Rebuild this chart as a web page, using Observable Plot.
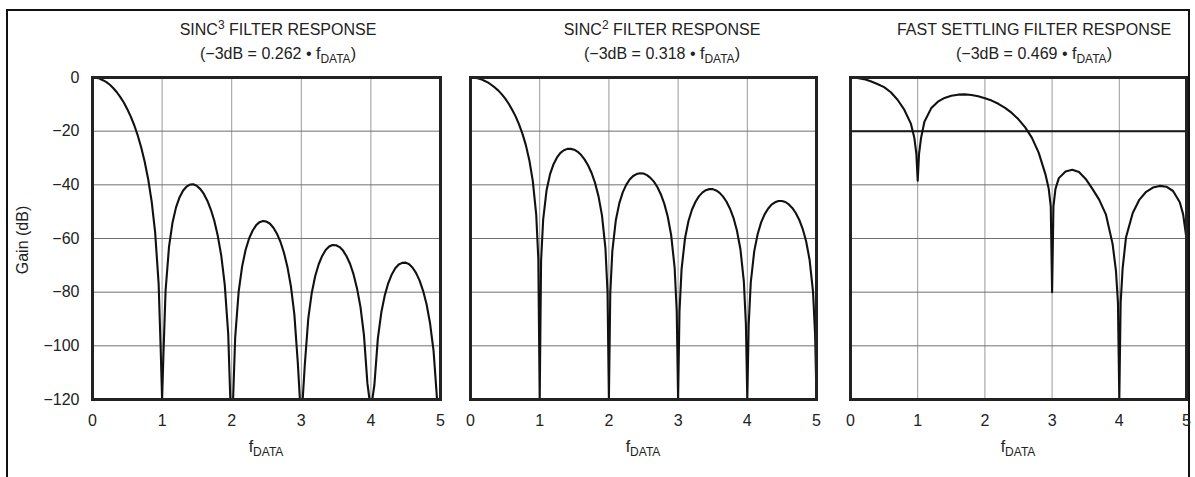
<!DOCTYPE html>
<html><head><meta charset="utf-8">
<script src="https://cdn.jsdelivr.net/npm/d3@7"></script>
<script src="https://cdn.jsdelivr.net/npm/@observablehq/plot@0.6"></script>
<style>
body{margin:0;background:#fff;}
#chart{position:relative;width:1195px;height:477px;overflow:hidden;font-family:"Liberation Sans",Arial,sans-serif;color:#222;background:#fff;}
#outer{position:absolute;left:6px;top:9px;width:1184px;height:520px;border:2px solid #111;box-sizing:border-box;}
.title{position:absolute;width:400px;text-align:center;font-size:16px;line-height:24px;white-space:nowrap;}
.title sup,.title sub,.xl sub{font-size:12px;line-height:0;}
.title sup{vertical-align:6px;}
.title sub,.xl sub{vertical-align:-4px;}
.xl{position:absolute;width:120px;text-align:center;font-size:16px;line-height:20px;}
#ylab{position:absolute;left:23px;top:240px;font-size:16px;white-space:nowrap;transform:translate(-50%,-50%) rotate(-90deg);}
svg.panel{position:absolute;top:0;}
</style>
</head><body>
<div id="chart"><div id="outer"></div></div>
<script>
// frequency (multiples of f_DATA) sampled for the sinc responses
const sincFreq = [
  0,0.05,0.1,0.15,0.2,0.25,0.3,0.35,0.4,0.45,0.5,0.55,0.6,0.65,0.7,0.75,0.8,0.85,0.9,0.95,0.98,
  1,1.02,1.05,1.1,1.15,1.2,1.25,1.3,1.35,1.4,1.45,1.5,1.55,1.6,1.65,1.7,1.75,1.8,1.85,1.9,1.95,1.98,
  2,2.02,2.05,2.1,2.15,2.2,2.25,2.3,2.35,2.4,2.45,2.5,2.55,2.6,2.65,2.7,2.75,2.8,2.85,2.9,2.95,2.98,
  3,3.02,3.05,3.1,3.15,3.2,3.25,3.3,3.35,3.4,3.45,3.5,3.55,3.6,3.65,3.7,3.75,3.8,3.85,3.9,3.95,3.98,
  4,4.02,4.05,4.1,4.15,4.2,4.25,4.3,4.35,4.4,4.45,4.5,4.55,4.6,4.65,4.7,4.75,4.8,4.85,4.9,4.95,4.98,
  5
];
// SINC3 gain (dB)
const sinc3Gain = [
  0,-0.1,-0.4,-1.0,-1.7,-2.7,-4.0,-5.5,-7.3,-9.3,-11.8,-14.6,-17.8,-21.6,-26.1,-31.4,-37.9,-46.2,-57.7,-76.8,-101.4,
  -120,-102.5,-79.4,-62.9,-54.0,-48.4,-44.7,-42.2,-40.7,-39.9,-39.8,-40.4,-41.6,-43.4,-45.9,-49.2,-53.4,-59.0,-66.4,-77.2,-95.6,-119.8,
  -120,-120,-96.9,-79.8,-70.4,-64.2,-60.0,-57.1,-55.1,-53.9,-53.5,-53.7,-54.5,-56.0,-58.2,-61.2,-65.2,-70.5,-77.7,-88.2,-106.4,-120,
  -120,-120,-107.2,-89.9,-80.3,-74.0,-69.6,-66.5,-64.3,-63.0,-62.4,-62.5,-63.2,-64.5,-66.6,-69.4,-73.3,-78.5,-85.5,-95.9,-114.0,-120,
  -120,-120,-114.6,-97.2,-87.5,-81.1,-76.6,-73.4,-71.1,-69.7,-69.1,-69.0,-69.6,-70.9,-72.9,-75.7,-79.5,-84.5,-91.6,-101.8,-119.8,-120,
  -120
];
// SINC2 gain (dB)
const sinc2Gain = [
  0,-0.1,-0.3,-0.6,-1.2,-1.8,-2.7,-3.7,-4.8,-6.2,-7.8,-9.7,-11.9,-14.4,-17.4,-20.9,-25.2,-30.8,-38.5,-51.2,-67.6,
  -120,-68.3,-53.0,-41.9,-36.0,-32.3,-29.8,-28.1,-27.1,-26.6,-26.6,-26.9,-27.7,-28.9,-30.6,-32.8,-35.6,-39.3,-44.3,-51.4,-63.7,-79.8,
  -120,-80.2,-64.6,-53.2,-46.9,-42.8,-40.0,-38.0,-36.7,-36.0,-35.7,-35.8,-36.4,-37.4,-38.8,-40.8,-43.5,-47.0,-51.8,-58.8,-70.9,-86.9,
  -120,-87.2,-71.5,-59.9,-53.5,-49.3,-46.4,-44.3,-42.9,-42.0,-41.6,-41.6,-42.1,-43.0,-44.4,-46.3,-48.9,-52.3,-57.0,-63.9,-76.0,-92.0,
  -120,-92.1,-76.4,-64.8,-58.3,-54.0,-51.0,-48.9,-47.4,-46.5,-46.0,-46.0,-46.4,-47.3,-48.6,-50.5,-53.0,-56.4,-61.0,-67.9,-79.9,-95.9,
  -120
];
// Fast settling filter
const fastFreq = [0,0.1,0.2,0.3,0.4,0.5,0.6,0.7,0.8,0.9,0.95,0.98,1.0,1.02,1.05,1.1,1.2,1.3,1.4,1.5,1.6,1.7,1.8,1.9,2.0,
  2.1,2.2,2.3,2.4,2.5,2.6,2.7,2.8,2.9,2.95,2.98,3.0,3.02,3.05,3.1,3.2,3.3,3.4,3.5,3.6,3.7,3.8,3.9,3.95,3.98,4.0,4.02,4.05,
  4.1,4.2,4.3,4.4,4.5,4.6,4.7,4.8,4.9,4.95,5.0];
const fastGain = [0,-0.2,-0.6,-1.4,-2.4,-3.6,-5.5,-8.3,-12.0,-17.3,-22.5,-28.5,-38.5,-28.5,-22.5,-16.5,-11.5,-9.0,-7.6,-6.8,-6.4,-6.3,-6.5,-7.0,-7.7,
  -8.6,-9.8,-11.3,-13.2,-15.6,-18.6,-22.5,-28,-36,-41.5,-48,-80,-48,-41.5,-37.5,-35,-34.4,-35.2,-37.8,-41.5,-45.5,-51,-62,-72,-84,-120,-84,-71,
  -59.5,-50.5,-45.5,-42.6,-41,-40.4,-40.7,-42.3,-46.5,-51,-60];
const fastThreshold = [-20];

const xTicks = [0,1,2,3,4,5];
const yTicks = [0,-20,-40,-60,-80,-100,-120];
const titles = [
  ["SINC<sup>3</sup> FILTER RESPONSE","(\u22123dB = 0.262 \u2022 f<sub>DATA</sub>)"],
  ["SINC<sup>2</sup> FILTER RESPONSE","(\u22123dB = 0.318 \u2022 f<sub>DATA</sub>)"],
  ["FAST SETTLING FILTER RESPONSE","(\u22123dB = 0.469 \u2022 f<sub>DATA</sub>)"]
];
const yLabel = "Gain (dB)";

const chart = document.getElementById("chart");
const minus = d => d < 0 ? "\u2212" + Math.abs(d) : String(d);

const panels = [
  {freq: sincFreq, gain: sinc3Gain, left: 0, width: 450, ml: 92, mr: 10, showY: true, tc: 278, thr: null},
  {freq: sincFreq, gain: sinc2Gain, left: 455, width: 370, ml: 15, mr: 9, showY: false, tc: 662, thr: null},
  {freq: fastFreq, gain: fastGain, left: 835, width: 360, ml: 15, mr: 9, showY: false, tc: 1034, thr: fastThreshold}
];

panels.forEach((p, i) => {
  const data = p.freq.map((f, j) => ({f, g: p.gain[j]}));
  const marks = [
    Plot.gridX(xTicks.slice(1, -1), {stroke: "#9a9a9a", strokeOpacity: 1, strokeWidth: 1}),
    Plot.gridY(yTicks.slice(1, -1), {stroke: "#707070", strokeOpacity: 1, strokeWidth: 1})
  ];
  if (p.thr) marks.push(Plot.ruleY(p.thr, {stroke: "#1a1a1a", strokeWidth: 2}));
  marks.push(
    Plot.line(data, {x: "f", y: "g", stroke: "#111", strokeWidth: 2.1}),
    Plot.frame({stroke: "#222", strokeWidth: 3}),
    Plot.axisX(xTicks, {tickSize: 0, tickPadding: 15, label: null})
  );
  if (p.showY) marks.push(Plot.axisY(yTicks, {tickSize: 0, tickPadding: 13, label: null, tickFormat: minus}));
  const svg = Plot.plot({
    width: p.width, height: 477,
    marginLeft: p.ml, marginRight: p.mr, marginTop: 77, marginBottom: 78,
    x: {domain: [0, 5]},
    y: {domain: [-120, 0], axis: p.showY ? undefined : null},
    style: {background: "transparent", fontFamily: "'Liberation Sans', Arial, sans-serif", fontSize: "16px", color: "#222", overflow: "visible"},
    marks
  });
  svg.classList.add("panel");
  svg.style.position = "absolute";
  svg.style.left = p.left + "px";
  svg.style.top = "0px";
  svg.style.maxWidth = "none";
  chart.appendChild(svg);

  const t = document.createElement("div");
  t.className = "title";
  t.style.left = (p.tc - 200) + "px";
  t.style.top = "18px";
  t.innerHTML = titles[i][0] + "<br>" + titles[i][1];
  chart.appendChild(t);

  const xl = document.createElement("div");
  xl.className = "xl";
  const cx = p.left + p.ml + (p.width - p.ml - p.mr) / 2;
  xl.style.left = (cx - 60) + "px";
  xl.style.top = "437px";
  xl.innerHTML = "f<sub>DATA</sub>";
  chart.appendChild(xl);
});

const yl = document.createElement("div");
yl.id = "ylab";
yl.textContent = yLabel;
chart.appendChild(yl);
</script>
</body></html>
